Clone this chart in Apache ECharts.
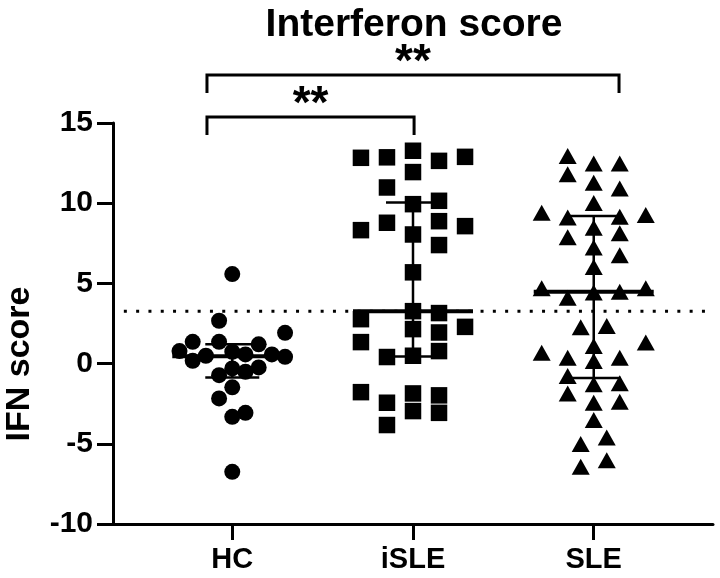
<!DOCTYPE html>
<html>
<head>
<meta charset="utf-8">
<script src="https://cdn.jsdelivr.net/npm/echarts@6/dist/echarts.min.js"></script>
<style>
  html, body { margin: 0; padding: 0; background: #fff; }
  #chart { width: 720px; height: 578px; }
</style>
</head>
<body>
<div id="chart"></div>
<script>
  // groups on the x axis (positions 1, 2, 3)
  const categories = ['HC', 'iSLE', 'SLE']
  const yTicks = [-10, -5, 0, 5, 10, 15]

  // IFN score per subject, with its jitter column inside the group
  const hcValues = [5.58, 2.67, 1.92, 1.36, 1.36, 1.20, 0.78, 0.49, 0.74, 0.57, 0.57, 0.42, 0.17, -0.30, -0.24, -0.51, -0.72, -1.48, -2.17, -3.07, -3.32, -6.75]
  const hcCols   = [0, -1, 4, -3, -1, 2, -4, -2, 0, 1, 3, 4, -3, 0, 2, 1, -1, 0, -1, 1, 0, 0]

  const isleValues = [12.83, 12.86, 13.27, 12.64, 12.89, 11.94, 10.98, 9.94, 10.15, 8.32, 8.78, 8.88, 8.57, 8.05, 7.39, 5.69, 3.27, 3.15, 2.77, 2.15, 1.94, 2.29, 1.34, 0.41, 0.49, 0.78, -1.78, -2.44, -1.86, -1.98, -2.96, -3.07, -3.83]
  const isleCols   = [-2, -1, 0, 1, 2, 0, -1, 0, 1, -2, -1, 1, 2, 0, 1, 0, 0, 1, -2, 0, 1, 2, -2, -1, 0, 1, -2, -1, 0, 1, 0, 1, -1]

  const sleValues = [12.94, 12.48, 12.48, 11.80, 11.27, 10.92, 10.02, 9.40, 9.11, 9.15, 9.26, 8.47, 7.87, 8.12, 7.24, 6.76, 6.03, 4.69, 4.10, 4.44, 4.48, 4.69, 2.26, 2.34, 1.32, 1.09, 0.67, 0.36, 0.16, 0.36, -0.78, -1.28, -1.23, -1.86, -2.44, -2.38, -3.52, -5.02, -4.60, -6.43, -6.02]
  const sleCols   = [-1, 0, 1, -1, 0, 1, 0, -2, -1, 1, 2, 0, -1, 1, 0, 1, 0, -2, -1, 0, 1, 2, -0.5, 0.5, 2, 0, -2, -1, 0, 1, -1, 0, 1, -1, 0, 1, 0, -0.5, 0.5, -0.5, 0.5]

  // median with interquartile range, as drawn
  const medians = [0.46, 3.27, 4.48]
  const q1s = [-0.86, 0.45, -0.89]
  const q3s = [1.21, 10.05, 9.2]

  // dotted reference line
  const refLine = 3.27
  const refLineFrom = 0.40
  const refLineTo = 3.62

  // significance brackets [from, to, label]
  const brackets = [[0.86, 3.14, '**'], [0.86, 2.006, '**']]

  const hcStep = 0.073
  const groupStep = 0.144

  const toPoints = (pos, vals, cols, step) => vals.map((v, i) => [pos + cols[i] * step, v])

  const font = "'Liberation Sans', Arial, sans-serif"
  const chart = echarts.init(document.getElementById('chart'))

  const dot = { color: '#000', opacity: 1 }

  const option = {
    animation: false,
    backgroundColor: '#fff',
    title: {
      text: 'Interferon score',
      left: 409,
      top: 1,
      textAlign: 'center',
      textStyle: { fontFamily: font, fontWeight: 'bold', fontSize: 39, color: '#000' }
    },
    grid: { left: 113, right: 7, top: 123, bottom: 54 },
    xAxis: {
      type: 'value',
      min: 0.34,
      max: 3.66,
      splitLine: { show: false },
      axisLine: { onZero: false, lineStyle: { color: '#000', width: 3 } },
      axisTick: { customValues: [1, 2, 3], length: 16, lineStyle: { color: '#000', width: 3 } },
      axisLabel: {
        customValues: [1, 2, 3],
        formatter: v => categories[Math.round(v) - 1],
        margin: 21,
        fontFamily: font, fontWeight: 'bold', fontSize: 29, color: '#000'
      }
    },
    yAxis: {
      type: 'value',
      min: yTicks[0],
      max: yTicks[yTicks.length - 1],
      interval: 5,
      splitLine: { show: false },
      axisLine: { show: true, onZero: false, lineStyle: { color: '#000', width: 3 } },
      axisTick: { show: true, length: 16, lineStyle: { color: '#000', width: 3 } },
      axisLabel: { margin: 20, fontFamily: font, fontWeight: 'bold', fontSize: 30, color: '#000' }
    },
    series: [
      {
        type: 'line',
        data: [[refLineFrom, refLine], [refLineTo, refLine]],
        symbol: 'none',
        silent: true,
        lineStyle: { color: '#000', width: 3, type: [3, 9.3] },
        z: 1
      },
      {
        type: 'scatter',
        symbol: 'circle',
        symbolSize: 16,
        itemStyle: dot,
        data: toPoints(1, hcValues, hcCols, hcStep),
        z: 2
      },
      {
        type: 'scatter',
        symbol: 'rect',
        symbolSize: 16.5,
        itemStyle: dot,
        data: toPoints(2, isleValues, isleCols, groupStep),
        z: 2
      },
      {
        type: 'scatter',
        symbol: 'triangle',
        symbolSize: [18, 16],
        itemStyle: dot,
        data: toPoints(3, sleValues, sleCols, groupStep),
        z: 2
      },
      {
        type: 'custom',
        z: 3,
        silent: true,
        data: categories.map((c, i) => [i + 1, medians[i], q1s[i], q3s[i]]),
        renderItem: (params, api) => {
          const x = api.value(0)
          const pm = api.coord([x, api.value(1)])
          const p1 = api.coord([x, api.value(2)])
          const p3 = api.coord([x, api.value(3)])
          const st = w => ({ stroke: '#000', lineWidth: w })
          return {
            type: 'group',
            children: [
              { type: 'line', shape: { x1: p1[0], y1: p1[1], x2: p3[0], y2: p3[1] }, style: st(2.5) },
              { type: 'line', shape: { x1: p1[0] - 27, y1: p1[1], x2: p1[0] + 27, y2: p1[1] }, style: st(2.5) },
              { type: 'line', shape: { x1: p3[0] - 27, y1: p3[1], x2: p3[0] + 27, y2: p3[1] }, style: st(2.5) },
              { type: 'line', shape: { x1: pm[0] - 60, y1: pm[1], x2: pm[0] + 60, y2: pm[1] }, style: st(4) }
            ]
          }
        }
      }
    ]
  }
  chart.setOption(option)

  // y axis name and significance brackets
  const bracketTops = [75, 117]
  const graphics = [{
    type: 'text',
    x: 20,
    y: 364,
    rotation: Math.PI / 2,
    style: {
      text: 'IFN score', fontFamily: font, fontWeight: 'bold', fontSize: 34, fill: '#000',
      textAlign: 'center', textVerticalAlign: 'middle'
    }
  }]
  brackets.forEach((b, i) => {
    const xa = chart.convertToPixel({ gridIndex: 0 }, [b[0], 0])[0]
    const xb = chart.convertToPixel({ gridIndex: 0 }, [b[1], 0])[0]
    const top = bracketTops[i]
    graphics.push({
      type: 'polyline',
      shape: { points: [[xa, top + 18], [xa, top], [xb, top], [xb, top + 18]] },
      style: { stroke: '#000', lineWidth: 3, fill: null }
    })
    graphics.push({
      type: 'text',
      x: (xa + xb) / 2,
      y: top - 12,
      style: {
        text: b[2], fontFamily: font, fontWeight: 'bold', fontSize: 46, fill: '#000',
        textAlign: 'center', textVerticalAlign: 'middle'
      }
    })
  })
  chart.setOption({ graphic: graphics })
</script>
</body>
</html>
